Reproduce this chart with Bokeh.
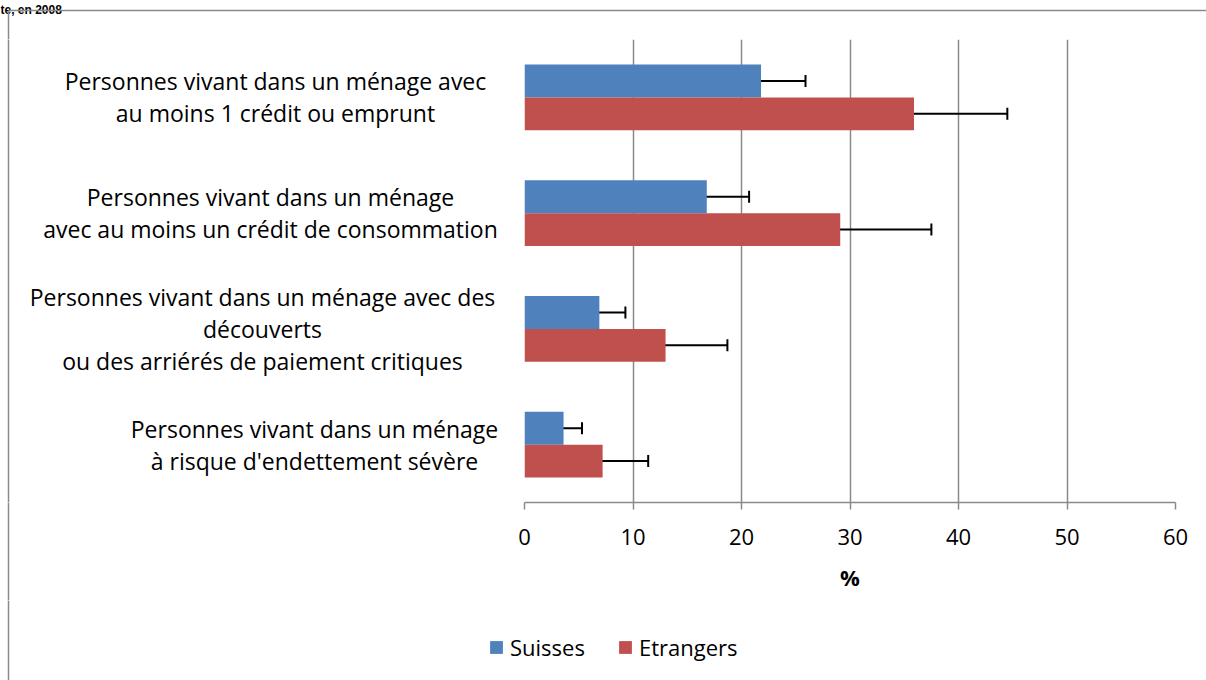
from bokeh.plotting import figure
from bokeh.layouts import column, row
from bokeh.models import (FactorRange, Range1d, ColumnDataSource, Whisker, TeeHead,
                          Legend, LegendItem, FixedTicker)
from bokeh.transform import dodge
from bokeh.core.properties import value
from bokeh.embed import file_html
from bokeh.resources import INLINE

# ---- data ----
categories = [
    "Personnes vivant dans un ménage avec\nau moins 1 crédit ou emprunt",
    "Personnes vivant dans un ménage\navec au moins un crédit de consommation",
    "Personnes vivant dans un ménage avec des\ndécouverts\nou des arriérés de paiement critiques",
    "Personnes vivant dans un ménage\nà risque d'endettement sévère",
]
series_names = ["Suisses", "Etrangers"]
suisses = [21.8, 16.8, 6.9, 3.6]
suisses_low = [17.5, 12.9, 4.5, 1.8]
suisses_high = [25.9, 20.7, 9.3, 5.3]
etrangers = [35.9, 29.1, 13.0, 7.2]
etrangers_low = [27.3, 20.7, 7.5, 2.9]
etrangers_high = [44.5, 37.5, 18.7, 11.4]
x_ticks = [0, 10, 20, 30, 40, 50, 60]
title_text = "te, en 2008"
x_label = "%"

# ---- styles / layout ----
BLUE = "#4F81BD"
RED = "#C0504D"
GRID = "#8a8a8a"
FONT = "Open Sans"
FS = "22px"
W = 1206
TOP_H = 39          # strip above the plot area
A_W = 512           # category-label column
B_PAD = 12          # room for the "0" tick label
B_W = W - A_W       # plot column
MID_H = 561         # height of label + plot row
FRAME_H = 463       # plot area height
FRAME_W = 651
C_H = 680 - TOP_H - MID_H  # legend strip
BX, BY = 8, 10      # chart-area border
label_centers = [275, 270, 262, 314]  # x centre of each label block (px)

common = dict(output_backend="svg", toolbar_location=None, min_border=0,
              outline_line_color=None, border_fill_color=None,
              background_fill_color=None)

def strip(width, height):
    f = figure(width=width, height=height, x_range=Range1d(0, width),
               y_range=Range1d(height, 0),
               x_axis_location=None, y_axis_location=None, **common)
    f.grid.visible = False
    return f

cat_range = FactorRange(factors=list(reversed(categories)))

# --- top strip: title + border ---
T = strip(W, TOP_H)
T.text(x=[0], y=[9], text=[title_text], text_font=value("Liberation Sans"),
       text_font_style="bold", text_font_size=value("12px"), text_baseline="alphabetic",
       text_color="black")
T.segment(x0=[BX], y0=[BY], x1=[W + 2], y1=[BY], line_color=GRID, line_width=1.5)
T.segment(x0=[BX], y0=[BY], x1=[BX], y1=[TOP_H + 2], line_color=GRID, line_width=1.5)

# --- left column: category labels (same height as the plot frame) ---
A = figure(width=A_W, height=FRAME_H, x_range=Range1d(0, A_W), y_range=cat_range,
           x_axis_location=None, y_axis_location=None, **common)
A.grid.visible = False
A.text(x=label_centers, y=categories, text=categories,
       text_align="center", text_baseline="middle", text_font=value(FONT),
       text_font_size=value("23px"), text_line_height=1.0, text_color="black")
A.segment(x0=[BX], y0=[-0.1], x1=[BX], y1=[len(categories) + 0.1],
          line_color=GRID, line_width=1.5)

A2 = strip(A_W, MID_H - FRAME_H)
A2.segment(x0=[BX], y0=[-2], x1=[BX], y1=[MID_H - FRAME_H + 2], line_color=GRID, line_width=1.5)

# --- main plot ---
src = ColumnDataSource(dict(cat=categories, suisses=suisses, s_lo=suisses_low, s_hi=suisses_high,
                            etrangers=etrangers, e_lo=etrangers_low, e_hi=etrangers_high))
B = figure(width=B_W, height=MID_H, y_range=cat_range,
           x_range=Range1d(x_ticks[0], x_ticks[-1]), y_axis_location=None,
           output_backend="svg", toolbar_location=None,
           min_border_left=B_PAD, min_border_right=B_W - B_PAD - FRAME_W, min_border_top=0,
           min_border_bottom=MID_H - FRAME_H,
           outline_line_color=None, border_fill_color=None, background_fill_color="white")
B.ygrid.grid_line_color = None

half = 0.1415
bh = 0.283
r1 = B.hbar(y=dodge("cat", half, range=cat_range), left=0, right="suisses", height=bh,
            fill_color=BLUE, line_color=None, source=src)
r2 = B.hbar(y=dodge("cat", -half, range=cat_range), left=0, right="etrangers", height=bh,
            fill_color=RED, line_color=None, source=src)

for off, lo, hi in [(half, "s_lo", "s_hi"), (-half, "e_lo", "e_hi")]:
    B.add_layout(Whisker(base=dodge("cat", off, range=cat_range), lower=lo, upper=hi,
                         dimension="width", source=src, line_color="black", line_width=2,
                         lower_head=TeeHead(size=12, line_color="black", line_width=2),
                         upper_head=TeeHead(size=12, line_color="black", line_width=2)))

B.xgrid.ticker = FixedTicker(ticks=x_ticks)
B.xgrid.grid_line_color = GRID
B.xgrid.grid_line_width = 1.5
xa = B.xaxis[0]
xa.ticker = FixedTicker(ticks=x_ticks)
xa.axis_line_color = GRID
xa.axis_line_width = 1.5
xa.major_tick_line_color = GRID
xa.major_tick_line_width = 1.5
xa.major_tick_in = 0
xa.major_tick_out = 7
xa.minor_tick_line_color = None
xa.major_label_text_font = FONT
xa.major_label_text_font_size = FS
xa.major_label_text_color = "black"
xa.major_label_standoff = 19
xa.axis_label = x_label
xa.axis_label_text_font = FONT
xa.axis_label_text_font_size = FS
xa.axis_label_text_font_style = "bold"
xa.axis_label_text_color = "black"
xa.axis_label_standoff = 14

# --- bottom strip: legend ---
C = strip(W, C_H)
C.segment(x0=[BX], y0=[-2], x1=[BX], y1=[C_H + 2], line_color=GRID, line_width=1.5)
nan = float("nan")
k1 = C.hbar(y=[nan], right=[nan], height=1, fill_color=BLUE, line_color=None)
k2 = C.hbar(y=[nan], right=[nan], height=1, fill_color=RED, line_color=None)
legend = Legend(items=[LegendItem(label=series_names[0], renderers=[k1]),
                       LegendItem(label=series_names[1], renderers=[k2])],
                orientation="horizontal", location=(488, 18),
                glyph_width=16, glyph_height=16, label_standoff=6, spacing=32,
                label_text_font=FONT, label_text_font_size=FS, label_text_color="black",
                padding=0, margin=0, border_line_color=None, background_fill_alpha=0)
C.add_layout(legend)

layout = column(T, row(column(A, A2), B), C)
open("out.html", "w").write(file_html(layout, INLINE))
